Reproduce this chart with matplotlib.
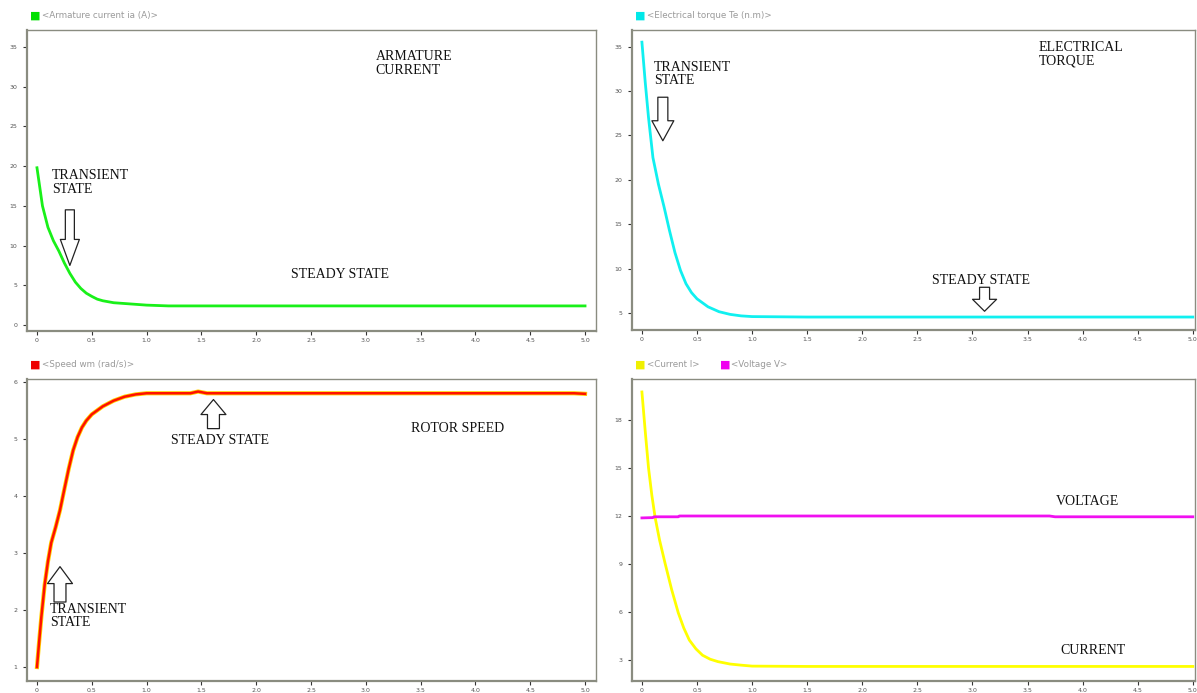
import matplotlib
matplotlib.use("Agg")
import matplotlib.pyplot as plt

# time base and read-off values for each trace
t_ia = [0, 0.05, 0.1, 0.15, 0.2, 0.25, 0.3, 0.35, 0.4, 0.45, 0.5, 0.55, 0.6, 0.7, 0.8, 0.9, 1.0, 1.2, 5.0]
ia = [19.8, 15.0, 12.3, 10.6, 9.3, 7.8, 6.5, 5.4, 4.6, 4.0, 3.6, 3.25, 3.05, 2.8, 2.7, 2.6, 2.5, 2.4, 2.4]

t_te = [0, 0.03, 0.06, 0.1, 0.15, 0.2, 0.25, 0.3, 0.35, 0.4, 0.45, 0.5, 0.6, 0.7, 0.8, 0.9, 1.0, 1.5, 5.0]
te = [35.5, 31.0, 27.0, 22.5, 19.5, 17.0, 14.3, 11.8, 9.8, 8.3, 7.3, 6.6, 5.7, 5.15, 4.85, 4.68, 4.6, 4.55, 4.55]

t_wm = [0, 0.02, 0.04, 0.07, 0.1, 0.13, 0.17, 0.21, 0.25, 0.29, 0.33, 0.37, 0.41, 0.45, 0.5, 0.6, 0.7,
        0.8, 0.9, 1.0, 1.4, 1.47, 1.55, 4.9, 5.0]
wm = [1.0, 1.45, 1.88, 2.44, 2.85, 3.18, 3.45, 3.75, 4.12, 4.48, 4.8, 5.03, 5.2, 5.32, 5.43, 5.57, 5.67,
      5.74, 5.78, 5.8, 5.8, 5.83, 5.8, 5.8, 5.79]

t_i = [0, 0.03, 0.06, 0.09, 0.12, 0.16, 0.21, 0.27, 0.33, 0.38, 0.43, 0.49, 0.55, 0.62, 0.69, 0.8,
       0.9, 1.0, 1.5, 5.0]
i_cur = [19.75, 17.3, 15.0, 13.3, 11.9, 10.5, 9.05, 7.4, 5.95, 5.0, 4.25, 3.7, 3.3, 3.05, 2.9, 2.75,
         2.68, 2.62, 2.6, 2.6]

t_v = [0, 0.1, 0.11, 0.33, 0.34, 3.7, 3.75, 5.0]
volt = [11.88, 11.9, 11.95, 11.95, 12.0, 12.0, 11.95, 11.95]

x_ticks = [0, 0.5, 1.0, 1.5, 2.0, 2.5, 3.0, 3.5, 4.0, 4.5, 5.0]
x_ticklabels = ["0", "0.5", "1.0", "1.5", "2.0", "2.5", "3.0", "3.5", "4.0", "4.5", "5.0"]

SERIF = "Liberation Serif"
PX = 72 / 100  # points per pixel at dpi 100


def setup(ax, xlim, ylim, yticks, legend):
    ax.set_xlim(*xlim)
    ax.set_ylim(*ylim)
    ax.set_xticks(x_ticks)
    ax.set_xticklabels(x_ticklabels)
    ax.set_yticks(yticks)
    ax.set_yticklabels([str(v) for v in yticks])
    ax.tick_params(labelsize=4.5, labelcolor="#555555", color="#333333", length=3, width=0.8, pad=2)
    ax.tick_params(axis="y", pad=4)
    for s in ax.spines.values():
        s.set_color("#8a8c80")
        s.set_linewidth(1.0)
    ax.spines["left"].set_linewidth(1.6)
    ax.spines["bottom"].set_linewidth(1.6)
    x = 0.006
    for label, color in legend:
        ax.text(x, 1.03, "\u25a0", color=color, fontsize=8, transform=ax.transAxes, va="bottom")
        ax.text(x + 0.02, 1.033, label, color="#9a9a9a", fontsize=6.3,
                transform=ax.transAxes, va="bottom")
        x += 0.15


def note(ax, x, y, s, va="top"):
    ax.text(x, y, s, family=SERIF, fontsize=10, va=va, ha="left", linespacing=1.05, color="#111111")


def block_arrow(ax, x, y_tail, y_tip, tail_px, head_px, head_len_px):
    ms = 10
    style = "simple,tail_width=%.2f,head_width=%.2f,head_length=%.2f" % (
        tail_px * PX / ms, head_px * PX / ms, head_len_px * PX / ms)
    ax.annotate("", xy=(x, y_tip), xytext=(x, y_tail),
                arrowprops=dict(arrowstyle=style, fc="white", ec="#222222", lw=0.9,
                                mutation_scale=ms, shrinkA=0, shrinkB=0))


fig = plt.figure(figsize=(11.97, 6.93), dpi=100)
W, H = 1197, 693


def add_axes(l, t, r, b):
    return fig.add_axes([l / W, 1 - b / H, (r - l) / W, (b - t) / H])


# armature current
ax1 = add_axes(27, 30, 596, 331)
ax1.plot(t_ia, ia, color="#19f019", lw=2.0)
setup(ax1, (-0.091, 5.10), (-0.76, 37.15), [0, 5, 10, 15, 20, 25, 30, 35],
      [("<Armature current ia (A)>", "#00e000")])
note(ax1, 3.09, 34.6, "ARMATURE\nCURRENT")
note(ax1, 0.137, 19.6, "TRANSIENT\nSTATE")
block_arrow(ax1, 0.30, 14.5, 7.5, 9, 19, 26)
note(ax1, 2.32, 6.3, "STEADY STATE", va="center")

# electrical torque
ax2 = add_axes(632, 30, 1195, 330)
ax2.plot(t_te, te, color="#10f0f0", lw=2.0)
setup(ax2, (-0.09, 5.02), (3.09, 36.87), [5, 10, 15, 20, 25, 30, 35],
      [("<Electrical torque Te (n.m)>", "#00e8e8")])
note(ax2, 3.60, 35.6, "ELECTRICAL\nTORQUE")
note(ax2, 0.11, 33.4, "TRANSIENT\nSTATE")
block_arrow(ax2, 0.19, 29.3, 24.4, 10, 22, 20)
note(ax2, 2.63, 8.7, "STEADY STATE", va="center")
block_arrow(ax2, 3.11, 7.9, 5.2, 10, 24, 12)

# rotor speed
ax3 = add_axes(27, 379, 596, 681)
ax3.plot(t_wm, wm, color="#ffd000", lw=3.0)
ax3.plot(t_wm, wm, color="#ff1000", lw=1.8)
setup(ax3, (-0.091, 5.10), (0.755, 6.05), [1, 2, 3, 4, 5, 6],
      [("<Speed wm (rad/s)>", "#ee0000")])
note(ax3, 3.41, 5.19, "ROTOR SPEED", va="center")
note(ax3, 1.22, 4.98, "STEADY STATE", va="center")
block_arrow(ax3, 1.61, 5.18, 5.69, 12, 25, 15)
block_arrow(ax3, 0.21, 2.14, 2.76, 12, 25, 17)
note(ax3, 0.12, 2.13, "TRANSIENT\nSTATE")

# current and voltage
ax4 = add_axes(632, 379, 1195, 681)
ax4.plot(t_i, i_cur, color="#ffff00", lw=2.0)
ax4.plot(t_v, volt, color="#f010f0", lw=2.0)
setup(ax4, (-0.09, 5.02), (1.69, 20.56), [3, 6, 9, 12, 15, 18],
      [("<Current I>", "#f0f000"), ("<Voltage V>", "#f000f0")])
note(ax4, 3.76, 12.9, "VOLTAGE", va="center")
note(ax4, 3.80, 3.6, "CURRENT", va="center")

fig.savefig("out.png", dpi=100)
